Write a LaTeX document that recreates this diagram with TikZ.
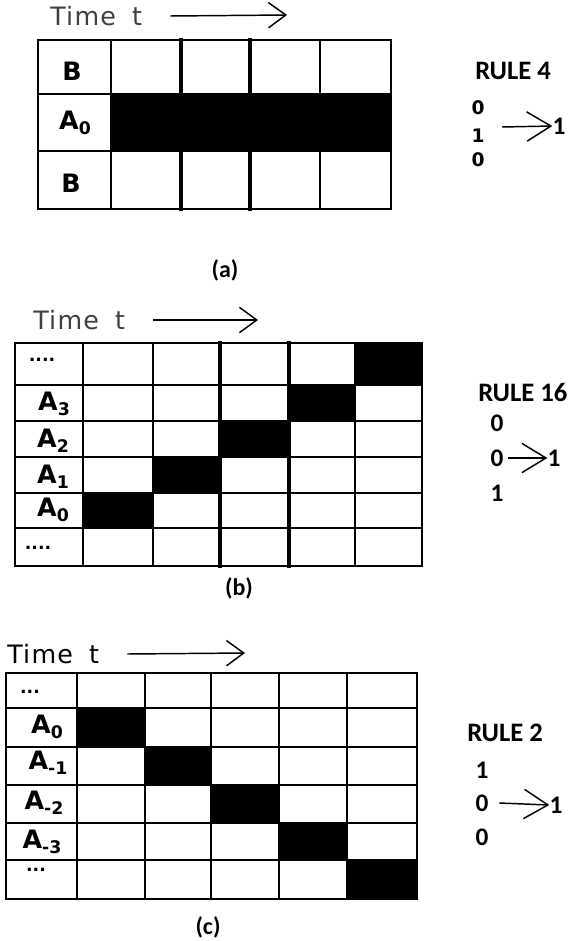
\documentclass[tikz,border=0pt]{standalone}
\usepackage{fontspec}
\setmainfont{DejaVu Sans}
\newfontfamily\rulefont{Carlito}
\newfontfamily\timefont[LetterSpace=5]{DejaVu Sans}
\usetikzlibrary{arrows.meta}
\newcommand{\cellname}[2]{#1\raisebox{-0.35ex}{\fontsize{13}{13}\selectfont #2}}

\begin{document}
\begin{tikzpicture}[x=0.75pt, y=-0.75pt,
	grid/.style={line width=1.3pt, line cap=rect},
	thickgrid/.style={line width=2.4pt, line cap=rect},
	tarrow/.style={line width=1.1pt, -{Straight Barb[length=13pt, width=19pt]}},
	rarrow/.style={line width=1.1pt, -{Straight Barb[length=18pt, width=22pt]}},
	lab/.style={font=\fontsize{19}{19}\selectfont\bfseries, inner sep=0pt},
	dots/.style={font=\fontsize{13}{13}\selectfont\bfseries, inner sep=0pt},
	timelab/.style={font=\timefont\fontsize{19}{19}\selectfont, text=black!75, inner sep=0pt, anchor=west},
	rulelab/.style={font=\rulefont\fontsize{20}{20}\selectfont\bfseries, inner sep=0pt, anchor=west},
	bit/.style={font=\rulefont\fontsize{19}{19}\selectfont\bfseries, inner sep=0pt},
	smallbit/.style={font=\fontsize{14}{14}\selectfont\bfseries, inner sep=0pt},
	caption/.style={font=\rulefont\fontsize{18}{18}\selectfont\bfseries, inner sep=0pt}]
	\useasboundingbox (0,0) rectangle (576,941);

	% (a)
	\fill (111,94) rectangle (391,151);
	\foreach \x in {38,111,320,391} \draw[grid] (\x,40) -- (\x,209);
	\foreach \x in {181,250} \draw[thickgrid] (\x,40) -- (\x,209);
	\foreach \y in {40,94,151,209} \draw[grid] (38,\y) -- (391,\y);
	\node[lab] (bTop) at (72,71) {B};
	\node[lab] (aZero) at (75,123) {\cellname{A}{0}};
	\node[lab] (bBot) at (71,183) {B};
	\node[timelab] (timeA) at (50,16) {Time\hspace{12pt}t};
	\coordinate (endA) at (287,15);
	\draw[tarrow] ([xshift=21pt]timeA.east) -- (endA);
	\node[rulelab] (ruleA) at (475,71) {RULE 4};
	\foreach \y/\b/\n in {108/0/1, 136/1/2, 160/0/3} \node[smallbit] (bitA\n) at (478,\y) {\b};
	\node[bit] (resA) at (559,126) {1};
	\coordinate (fromA) at (502,127);
	\draw[rarrow] (fromA) -- (resA.west);
	\node[caption] (capA) at (225,270) {(a)};

	% (b)
	\foreach \xa/\xb/\ya/\yb in {83/153/493/528, 153/220/457/493, 220/289/421/457, 289/355/385/421, 355/422/343/385}
		\fill (\xa,\ya) rectangle (\xb,\yb);
	\foreach \x in {15,83,153,355,422} \draw[grid] (\x,343) -- (\x,566);
	\foreach \x in {220,289} \draw[thickgrid] (\x,343) -- (\x,566);
	\foreach \y in {343,385,421,457,493,528,566} \draw[grid] (15,\y) -- (422,\y);
	\node[dots] (dotsB1) at (42,360) {....};
	\node[lab] (aThree) at (54,404) {\cellname{A}{3}};
	\node[lab] (aTwo) at (53,441) {\cellname{A}{2}};
	\node[lab] (aOne) at (53,477) {\cellname{A}{1}};
	\node[lab] (aZeroB) at (53,510) {\cellname{A}{0}};
	\node[dots] (dotsB2) at (38,548) {....};
	\node[timelab] (timeB) at (33,320) {Time\hspace{12pt}t};
	\coordinate (endB) at (258,320);
	\draw[tarrow] ([xshift=21pt]timeB.east) -- (endB);
	\node[rulelab] (ruleB) at (478,392) {RULE 16};
	\foreach \y/\b/\n in {423/0/1, 458/0/2, 493/1/3} \node[bit] (bitB\n) at (497,\y) {\b};
	\node[bit] (resB) at (554,458) {1};
	\draw[rarrow] ([xshift=3pt]bitB2.east) -- (resB.west);
	\node[caption] (capB) at (239,588) {(b)};

	% (c)
	\foreach \xa/\xb/\ya/\yb in {77/145/708/747, 145/211/747/785, 211/279/785/823, 279/347/823/860, 347/417/860/899}
		\fill (\xa,\ya) rectangle (\xb,\yb);
	\foreach \x in {6,77,145,211,279,347,417} \draw[grid] (\x,673) -- (\x,899);
	\foreach \y in {673,708,747,785,823,860,899} \draw[grid] (6,\y) -- (417,\y);
	\node[dots] (dotsC1) at (30,692) {...};
	\node[lab] (aZeroC) at (47,727) {\cellname{A}{0}};
	\node[lab] (aMinOne) at (48,763) {\cellname{A}{-1}};
	\node[lab] (aMinTwo) at (44,803) {\cellname{A}{-2}};
	\node[lab] (aMinThree) at (42,842) {\cellname{A}{-3}};
	\node[dots] (dotsC2) at (36,870) {...};
	\node[timelab, text=black] (timeC) at (7,654) {Time\hspace{12pt}t};
	\coordinate (endC) at (245,653);
	\draw[tarrow] ([xshift=21pt]timeC.east) -- (endC);
	\node[rulelab] (ruleC) at (467,733) {RULE 2};
	\foreach \y/\b/\n in {770/1/1, 803/0/2, 837/0/3} \node[bit] (bitC\n) at (482,\y) {\b};
	\node[bit] (resC) at (556,805) {1};
	\draw[rarrow] ([xshift=8pt]bitC2.east) -- (resC.west);
	\node[caption] (capC) at (208,927) {(c)};
\end{tikzpicture}
\end{document}
